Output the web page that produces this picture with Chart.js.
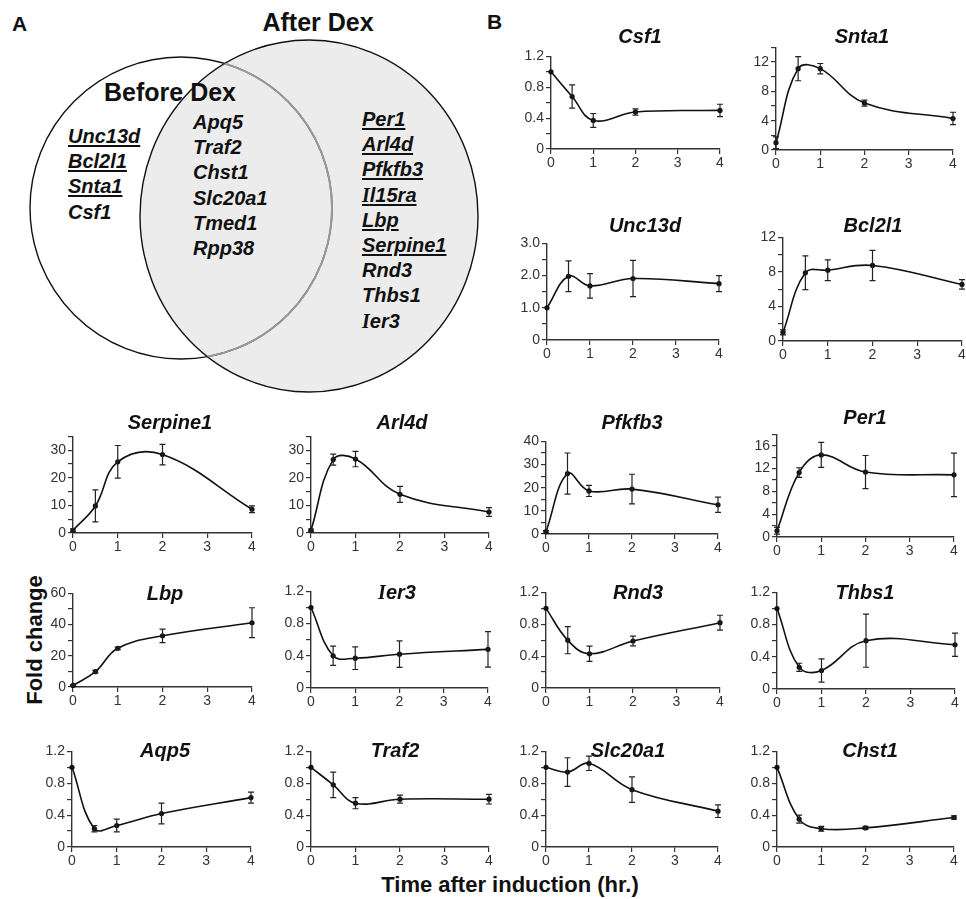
<!DOCTYPE html>
<html><head><meta charset="utf-8">
<script src="https://cdn.jsdelivr.net/npm/chart.js@4.4.1/dist/chart.umd.min.js"></script>
<style>
body{margin:0;background:#fff;width:966px;height:899px;overflow:hidden;position:relative;font-family:"Liberation Sans",Arial,sans-serif;color:#111}
canvas{position:absolute}
.t{position:absolute;transform:translate(-50%,-50%);font:italic bold 20px "Liberation Sans",Arial,sans-serif;white-space:nowrap;color:#111}
.v{position:absolute;font:italic bold 20px "Liberation Sans",Arial,sans-serif;line-height:25.2px;color:#111;white-space:nowrap}
.u{text-decoration:underline;text-decoration-thickness:2px;text-underline-offset:2px}
.lab{position:absolute;font:bold 22px "Liberation Sans",Arial,sans-serif;white-space:nowrap;color:#111}
.sI{font-family:"Liberation Serif",serif}
</style></head><body>

<svg id="venn" width="490" height="400" style="position:absolute;left:0;top:0">
  <defs><clipPath id="rc"><ellipse cx="309" cy="216" rx="169" ry="176"/></clipPath></defs>
  <ellipse cx="309" cy="216" rx="169" ry="176" fill="#ececec" stroke="#111" stroke-width="1.4"/>
  <circle cx="181" cy="208" r="151" fill="none" stroke="#111" stroke-width="1.4"/>
  <circle cx="181" cy="208" r="151" fill="none" stroke="#999" stroke-width="2" clip-path="url(#rc)"/>
</svg>
<div class="lab" style="left:12px;top:12px;font-size:21px">A</div>
<div class="lab" style="left:487px;top:10px;font-size:21px">B</div>
<div class="lab" style="left:318px;top:22px;transform:translate(-50%,-50%);font-size:25px">After Dex</div>
<div class="lab" style="left:170px;top:92px;transform:translate(-50%,-50%);font-size:25px">Before Dex</div>

<div class="v" style="left:68px;top:124px">
  <div class="u">Unc13d</div><div class="u">Bcl2l1</div><div class="u">Snta1</div><div>Csf1</div>
</div>
<div class="v" style="left:193px;top:110px">
  <div>Apq5</div><div>Traf2</div><div>Chst1</div><div>Slc20a1</div><div>Tmed1</div><div>Rpp38</div>
</div>
<div class="v" style="left:362px;top:107px">
  <div class="u">Per1</div><div class="u">Arl4d</div><div class="u">Pfkfb3</div><div class="u"><span class="sI">I</span>l15ra</div><div class="u">Lbp</div><div class="u">Serpine1</div><div>Rnd3</div><div>Thbs1</div><div><span class="sI">I</span>er3</div>
</div>

<div class="lab" style="left:35px;top:640px;transform:translate(-50%,-50%) rotate(-90deg)">Fold change</div>
<div class="lab" style="left:510px;top:885px;transform:translate(-50%,-50%)">Time after induction (hr.)</div>

<div id="charts"></div>

<script>
// ---- data ----
const times = [0, 0.5, 1, 2, 4];
const xTickStep = 1;

const csf1      = [1.0, 0.68, 0.37, 0.48, 0.50];
const csf1Err   = [0, 0.15, 0.09, 0.04, 0.08];
const snta1     = [1.0, 11.1, 11.1, 6.4, 4.3];
const snta1Err  = [0.8, 1.65, 0.7, 0.4, 0.85];
const unc13d    = [1.0, 1.98, 1.68, 1.91, 1.75];
const unc13dErr = [0, 0.48, 0.38, 0.56, 0.25];
const bcl2l1    = [1.0, 7.9, 8.2, 8.75, 6.55];
const bcl2l1Err = [0.3, 1.95, 1.2, 1.75, 0.55];
const serpine1    = [1.0, 9.8, 25.8, 28.4, 8.6];
const serpine1Err = [0.5, 5.8, 5.9, 3.7, 1.2];
const arl4d     = [1.0, 26.6, 26.8, 14.0, 7.6];
const arl4dErr  = [0.4, 2.0, 2.8, 2.9, 1.6];
const pfkfb3    = [1.0, 26.1, 18.6, 19.4, 12.6];
const pfkfb3Err = [0.5, 8.9, 2.4, 6.4, 3.3];
const per1      = [1.1, 11.3, 14.4, 11.4, 10.9];
const per1Err   = [0.6, 0.85, 2.2, 2.9, 3.8];
const lbp       = [1.0, 9.8, 24.8, 32.8, 41.2];
const lbpErr    = [0.3, 0.8, 0.8, 4.35, 9.6];
const ier3      = [1.0, 0.40, 0.37, 0.42, 0.48];
const ier3Err   = [0, 0.12, 0.14, 0.165, 0.22];
const rnd3      = [1.0, 0.60, 0.43, 0.59, 0.82];
const rnd3Err   = [0, 0.17, 0.095, 0.06, 0.093];
const thbs1     = [1.0, 0.27, 0.23, 0.60, 0.55];
const thbs1Err  = [0, 0.05, 0.145, 0.33, 0.145];
const aqp5      = [1.0, 0.23, 0.27, 0.42, 0.62];
const aqp5Err   = [0, 0.04, 0.08, 0.13, 0.07];
const traf2     = [1.0, 0.78, 0.55, 0.60, 0.60];
const traf2Err  = [0, 0.16, 0.07, 0.05, 0.06];
const slc20a1   = [1.0, 0.94, 1.05, 0.72, 0.45];
const slc20a1Err= [0, 0.18, 0.09, 0.16, 0.08];
const chst1     = [1.0, 0.35, 0.23, 0.24, 0.37];
const chst1Err  = [0, 0.05, 0.03, 0.02, 0.02];

const geneNames = ['Csf1','Snta1','Unc13d','Bcl2l1','Serpine1','Arl4d','Pfkfb3','Per1','Lbp','Ier3','Rnd3','Thbs1','Aqp5','Traf2','Slc20a1','Chst1'];
const geneMeans = [csf1,snta1,unc13d,bcl2l1,serpine1,arl4d,pfkfb3,per1,lbp,ier3,rnd3,thbs1,aqp5,traf2,slc20a1,chst1];
const geneErrs  = [csf1Err,snta1Err,unc13dErr,bcl2l1Err,serpine1Err,arl4dErr,pfkfb3Err,per1Err,lbpErr,ier3Err,rnd3Err,thbs1Err,aqp5Err,traf2Err,slc20a1Err,chst1Err];
// y-axis: max, minor tick step, labelled step, decimals
const yMaxes    = [1.2, 14, 3, 12, 35, 35, 40, 18, 60, 1.2, 1.2, 1.2, 1.2, 1.2, 1.2, 1.2];
const yMinor    = [0.2, 2, 0.5, 2, 5, 5, 5, 2, 10, 0.2, 0.2, 0.2, 0.2, 0.2, 0.2, 0.2];
const yLabelStep= [0.4, 4, 1, 4, 10, 10, 10, 4, 20, 0.4, 0.4, 0.4, 0.4, 0.4, 0.4, 0.4];
const yDecimals = [1, 0, 1, 0, 0, 0, 0, 0, 0, 1, 1, 1, 1, 1, 1, 1];

// ---- layout (pixel boxes of plot areas and title centres) ----
const layoutBoxes = {
  Csf1:[551,720,56,149,640,36], Snta1:[776,953,47,150,862,36],
  Unc13d:[547,719,243,340,645,225], Bcl2l1:[783,962,237,341,873,225],
  Serpine1:[73,252,436,533,170,422], Arl4d:[311,489,436,533,402,422],
  Pfkfb3:[546,718,441,534,632,422], Per1:[777,954,434,537,865,417],
  Lbp:[73,252,593,687,165,593], Ier3:[311,488,591,688,397,592],
  Rnd3:[546,720,592,688,638,592], Thbs1:[777,955,592,689,865,592],
  Aqp5:[72,251,751,847,165,750], Traf2:[311,489,751,847,395,750],
  Slc20a1:[546,718,751,847,628,750], Chst1:[777,954,751,847,870,750]
};
const YW = 36, XH = 24, PT = 10, PR = 12;
const axisColor = '#333';
const tickFont = {family:'"Liberation Sans", Arial, sans-serif', size:14};

const errorBars = {
  id:'errorBars',
  afterDatasetsDraw(chart){
    const ds = chart.data.datasets[0];
    const meta = chart.getDatasetMeta(0);
    const ys = chart.scales.y, ctx = chart.ctx;
    ctx.save();
    ctx.strokeStyle = '#222'; ctx.lineWidth = 1.2;
    meta.data.forEach((pt, i) => {
      const e = ds.errors[i]; if (!e) return;
      const v = ds.data[i].y;
      const yh = ys.getPixelForValue(v + e), yl = ys.getPixelForValue(v - e);
      const x = pt.x;
      ctx.beginPath();
      ctx.moveTo(x, yh); ctx.lineTo(x, yl);
      ctx.moveTo(x-3, yh); ctx.lineTo(x+3, yh);
      ctx.moveTo(x-3, yl); ctx.lineTo(x+3, yl);
      ctx.stroke();
    });
    ctx.restore();
  }
};

const holder = document.getElementById('charts');
geneNames.forEach((name, gi) => {
  const [x0, x4, yT, y0, tx, ty] = layoutBoxes[name];
  const w = Math.round(x4 - x0 + YW + PR), h = Math.round(y0 - yT + PT + XH);
  const cv = document.createElement('canvas');
  cv.width = w; cv.height = h;
  cv.style.left = (x0 - YW) + 'px'; cv.style.top = (yT - PT) + 'px';
  cv.style.width = w + 'px'; cv.style.height = h + 'px';
  holder.appendChild(cv);
  const tt = document.createElement('div');
  tt.className = 't'; tt.style.left = tx + 'px'; tt.style.top = ty + 'px';
  tt.innerHTML = name.startsWith('I') ? '<span class="sI">I</span>' + name.slice(1) : name;
  document.body.appendChild(tt);

  const mean = geneMeans[gi], errs = geneErrs[gi];
  const lstep = yLabelStep[gi], dec = yDecimals[gi];
  new Chart(cv, {
    type:'line',
    data:{ datasets:[{
      data: times.map((t, i) => ({x:t, y:mean[i]})),
      errors: errs,
      borderColor:'#111', borderWidth:1.6, tension:0.4,
      pointRadius:2.6, pointBackgroundColor:'#111', pointBorderWidth:0,
      clip:false, fill:false
    }]},
    options:{
      responsive:false, animation:false, devicePixelRatio:1,
      layout:{padding:{left:0, right:PR, top:PT, bottom:0}},
      plugins:{legend:{display:false}, tooltip:{enabled:false}},
      scales:{
        x:{ type:'linear', min:0, max:4,
            ticks:{stepSize:xTickStep, font:tickFont, color:'#333', padding:1, maxRotation:0, autoSkip:false},
            grid:{drawOnChartArea:false, drawTicks:true, tickLength:5, color:axisColor, lineWidth:1.2},
            border:{color:axisColor, width:1.4},
            afterFit:s => { s.height = XH; } },
        y:{ type:'linear', min:0, max:yMaxes[gi],
            ticks:{stepSize:yMinor[gi], font:tickFont, color:'#333', padding:2, autoSkip:false,
                   callback:v => { const r = v / lstep; if (Math.abs(r - Math.round(r)) > 1e-6) return ''; return Math.abs(v) < 1e-9 ? '0' : v.toFixed(dec); }},
            grid:{drawOnChartArea:false, drawTicks:true, tickLength:5, color:axisColor, lineWidth:1.2},
            border:{color:axisColor, width:1.4},
            afterFit:s => { s.width = YW; } }
      }
    },
    plugins:[errorBars]
  });
});
</script>
</body></html>
